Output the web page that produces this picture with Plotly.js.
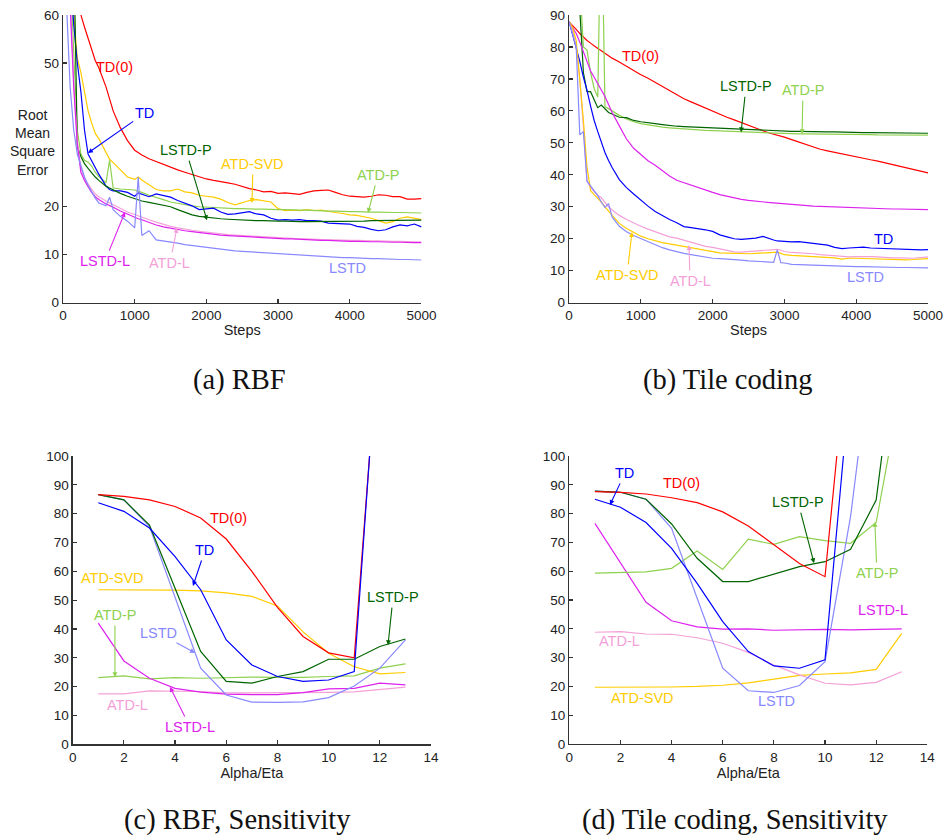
<!DOCTYPE html>
<html><head><meta charset="utf-8">
<script src="https://cdn.plot.ly/plotly-3.0.1.min.js"></script>
<style>html,body{margin:0;padding:0;background:#fff}</style>
</head><body><div id="chart" style="width:944px;height:837px"></div>
<script>
// ---------------- DATA ----------------
const stepsA = [0,50,100,150,200,250,300,350,400,450,500,
  600,650,700,800,900,1000,1050,1100,
  1200,1300,1400,1500,1600,1700,1800,1900,2000,
  2100,2200,2300,2400,2500,2600,2700,2800,2900,3000,
  3100,3200,3300,3400,3500,3600,3700,3800,3900,4000,
  4100,4200,4300,4400,4500,4600,4700,4800,4900,5000];

const rbfTD0 = [110,95,82,72,65,60,57.5,55,52.5,50.5,49,
  45,42.5,40,36.5,33.8,31.8,31.2,30.8,
  30.0,29.4,28.8,28.2,27.7,27.2,26.7,26.2,25.8,
  25.5,25.3,25.0,24.7,24.2,23.8,23.5,23.1,23.2,22.8,
  22.9,22.7,22.6,23.0,23.3,23.4,23.5,23.0,22.5,22.2,
  22.1,22.0,22.2,22.5,22.4,22.1,22.1,21.6,21.6,21.7];
const rbfTD = [110,90,70,58,50,44,36,31,29.5,28,26.8,
  24.3,23.6,23.3,23.3,23.0,22.2,22.9,22.6,
  22.1,22.7,22.3,22.0,21.3,20.8,20.2,19.4,19.6,
  19.7,18.9,18.4,18.5,18.8,19.0,18.5,18.3,17.6,17.2,
  17.3,17.2,17.3,17.1,17.1,17.0,16.6,16.5,16.4,16.4,
  15.9,15.7,15.3,15.0,15.2,15.8,16.2,16.0,16.4,15.8];
const rbfLSTDP = [120,100,80,75,32.5,30.5,29,28,27,26.2,25.5,
  24.3,23.9,23.5,22.8,22.2,21.7,21.4,21.2,
  20.9,20.6,20.3,20.0,19.4,18.8,18.3,18.0,17.8,
  17.6,17.5,17.4,17.3,17.3,17.2,17.1,17.1,17.0,17.0,
  17.0,16.9,16.9,16.9,16.9,16.9,16.9,17.0,17.0,17.0,
  17.0,17.0,17.1,17.1,17.1,17.1,17.2,17.2,17.2,17.2];
const rbfATDSVD = [120,100,80,60,51,48,44,40,37.5,35.3,34.2,
  31.2,29.9,29.2,27.6,26.2,25.7,26.2,25.6,
  24.6,23.6,23.3,23.3,23.7,23.1,22.9,22.4,22.2,
  22.0,21.6,20.9,20.4,20.9,21.3,21.5,21.2,21.0,19.6,
  19.2,19.3,19.2,19.4,19.2,19.3,19.0,18.8,18.6,18.3,
  18.2,17.9,17.6,17.1,16.6,16.9,17.6,17.9,17.6,17.3];
const rbfATDP = [110,90,70,52,36,31,29.7,29.3,28.5,27.2,26.3,
  25.0,29.7,23.9,23.7,23.6,23.5,23.2,23.0,
  22.4,22.0,21.5,21.0,20.7,20.4,20.2,20.0,19.9,
  19.8,19.7,19.7,19.6,19.6,19.5,19.5,19.5,19.4,19.4,
  19.4,19.3,19.3,19.3,19.2,19.2,19.1,19.1,19.0,19.0,
  19.0,18.9,18.9,18.9,18.8,18.8,18.8,18.8,18.7,18.7];
const rbfLSTDL = [120,90,62,45,33,27.2,25.5,24.2,23.0,22.1,21.5,
  20.6,20.3,19.9,19.1,18.4,17.8,17.5,17.3,
  16.7,16.2,15.8,15.5,15.2,15.0,14.8,14.6,14.4,
  14.2,14.1,14.0,13.9,13.8,13.7,13.6,13.6,13.5,13.4,
  13.3,13.3,13.2,13.2,13.1,13.0,13.0,12.9,12.9,12.8,
  12.8,12.7,12.7,12.7,12.6,12.6,12.6,12.5,12.5,12.5];
const rbfATDL = [120,90,64,46,34,28,26,24.8,23.6,22.7,22.1,
  21.2,20.8,20.4,19.6,18.9,18.4,18.1,17.9,
  17.3,16.8,16.3,15.9,15.6,15.3,15.1,14.9,14.7,
  14.5,14.3,14.2,14.1,14.0,13.9,13.8,13.7,13.6,13.5,
  13.4,13.4,13.3,13.3,13.2,13.2,13.1,13.1,13.0,13.0,
  13.0,12.9,12.9,12.9,12.8,12.8,12.8,12.7,12.7,12.7];
const rbfLSTD = [130,62,45,36,31,28.5,26.2,24.5,23,21.8,20.8,
  20.2,22.0,19.4,18.0,17.0,15.6,26.2,14.0,
  15.0,13.1,12.9,12.7,12.4,12.1,11.9,11.7,11.5,
  11.3,11.1,10.9,10.8,10.7,10.6,10.5,10.4,10.3,10.2,
  10.1,10.0,9.9,9.8,9.7,9.6,9.5,9.5,9.4,9.4,
  9.3,9.3,9.2,9.2,9.1,9.1,9.0,9.0,8.9,8.9];

const stepsB = [0,50,100,150,200,250,300,350,400,450,500,550,600,
  700,800,900,1000,1100,1200,1300,1400,1500,1600,1700,
  1800,1900,2000,2100,2200,2300,2400,2500,2600,2700,2800,
  2850,2900,2950,
  3000,3100,3200,3300,3400,3500,3600,3700,3800,3900,4000,
  4100,4200,4300,4400,4500,4600,4700,4800,4900,5000];

const tileTD0 = [87.8,86.8,85.5,84.2,83,82,81.2,80.2,79.5,78.8,78,77.2,76.5,
  75.3,74,72.5,71.3,70.2,68.9,67.6,66.4,65,63.8,62.8,
  61.8,60.8,60,59,58,57.2,56.3,55.4,54.6,53.8,53,
  52.7,52.5,52.2,
  51.8,51,50.2,49.4,48.7,48,47.5,47,46.5,46,45.6,
  45.2,44.7,44.3,43.8,43.2,42.7,42.2,41.7,41.1,40.6];
const tileTD = [88,84,80,75.5,70.5,66.5,61.5,57,53.5,50,47,44.5,42.3,
  38.5,36,34,32,30.2,28.5,27.2,26,25,23.8,23.5,
  23.2,22.8,22.3,21.2,20.6,20,19.8,19.9,20.2,20.7,19.8,
  19.6,19.3,19.2,
  19.3,19.0,19.1,18.8,18.6,18.4,18.0,17.3,16.9,17.1,17.3,
  17.4,17.1,17.0,17.0,16.9,16.8,16.7,16.6,16.5,16.6];
const tileLSTDP = [150,130,110,92,72,66,66,63.5,61,61.8,60.5,59.5,59,
  58,57.9,57,56.6,56.2,56,55.7,55.4,55.2,55.1,55.0,
  54.9,54.7,54.6,54.4,54.3,54.2,54.1,54,54,53.9,53.8,
  53.8,53.8,53.7,
  53.7,53.6,53.6,53.5,53.5,53.4,53.4,53.4,53.3,53.3,53.3,
  53.2,53.2,53.2,53.1,53.1,53.1,53.0,53.0,53.0,53.0];
const tileATDP = [150,130,110,100,80,79,72,67,64.3,130,61.3,60.7,60,
  58.6,57.5,56.6,56,55.6,55.2,54.9,54.7,54.5,54.3,54.1,
  54.0,53.9,53.8,53.7,53.6,53.5,53.4,53.3,53.2,53.1,53.0,
  53.0,53.0,52.9,
  52.9,52.9,52.8,52.8,52.8,52.7,52.7,52.7,52.7,52.6,52.6,
  52.6,52.6,52.5,52.5,52.5,52.5,52.4,52.4,52.4,52.4];
const tileLSTDL = [88,86,84.2,81.5,78.5,75.8,72.5,70.5,68.5,66.3,64.5,62,59.5,
  55.3,51.2,48.3,46.2,44.4,43.0,41.3,39.6,38.3,37.5,36.8,
  36.1,35.3,34.5,33.8,33.3,32.6,32.3,32.0,31.7,31.5,31.3,
  31.2,31.1,31.0,
  30.8,30.6,30.5,30.3,30.2,30.1,30.0,30.0,29.9,29.9,29.8,
  29.7,29.6,29.5,29.4,29.3,29.3,29.2,29.2,29.1,29.1];
const tileATDSVD = [88,86,82,70,57,42.5,35,33.8,32.8,31.5,30,28.5,27.3,
  24.8,23.2,22.0,20.8,20.0,19.3,18.8,18.4,18.0,17.5,17.0,
  16.6,16.2,15.8,15.6,15.5,15.4,15.2,15.3,15.4,15.6,15.7,
  15.8,15.8,15.4,
  15.0,14.8,14.7,14.4,14.5,14.3,14.2,14.0,13.6,13.9,13.9,
  13.8,13.7,13.7,13.6,13.5,13.5,13.4,13.5,13.6,13.8];
const tileATDL = [88,85,80,70,55,38,36,34.8,33.6,32.8,31.3,30,29,
  27.3,26,24.9,23.9,23,22.2,21.3,20.6,20.2,19.5,18.8,
  18.2,17.6,17.3,16.8,16.3,15.9,15.8,16.0,16.3,16.5,16.7,
  16.8,16.7,16.4,
  16.0,15.7,15.6,15.5,15.3,15.0,14.8,14.6,14.3,14.3,14.4,
  14.5,14.4,14.3,14.1,14.0,14.0,13.9,13.9,14.1,14.3];
const tileLSTD = [88,84,80,52.5,53.5,38,36.5,34.8,33.5,31.5,29.8,31.0,26.8,
  23.9,22.2,21.0,20.0,19.0,18.0,17.2,16.5,15.9,15.4,15.0,
  14.6,14.1,13.9,13.8,13.7,13.5,13.3,13.1,12.9,12.8,12.7,
  12.6,16.5,12.5,
  12.4,12.0,11.9,11.8,11.7,11.6,11.5,11.5,11.4,11.4,11.3,
  11.3,11.2,11.2,11.1,11.1,11.0,11.0,11.0,10.9,10.9];

const alphaEta = [1,2,3,4,5,6,7,8,9,10,11,12,13];

const sensRbfTD0    = [86.6,86.0,84.8,82.5,78.5,71.2,60.0,47.5,37.4,31.7,30.0,147,null];
const sensRbfTD     = [83.8,80.8,75.0,65.1,53.6,36.2,27.5,23.5,21.8,22.3,25.2,150,null];
const sensRbfLSTDP  = [86.6,84.8,76.0,54.0,32.2,21.8,21.2,23.5,25.2,29.5,29.5,33.9,36.5];
const sensRbfLSTD   = [86.6,84.8,75.5,51.0,26.4,17.1,14.6,14.5,14.7,16.2,20.2,26.4,36.2];
const sensRbfATDSVD = [53.6,53.6,53.6,53.5,53.2,52.5,51.3,48.0,39.0,31.6,26.9,24.4,24.9];
const sensRbfATDP   = [23.1,23.7,22.7,23.1,22.9,23.2,23.3,23.2,23.2,23.5,23.7,26.4,27.9];
const sensRbfLSTDL  = [42.0,28.9,22.9,19.4,18.1,17.4,17.2,17.2,17.9,19.2,19.4,21.2,20.6];
const sensRbfATDL   = [17.5,17.5,18.5,18.5,18.3,17.8,17.8,17.8,18.0,18.0,18.2,18.9,19.8];

const sensTileTD0    = [87.6,87.4,86.8,85.5,83.8,80.6,75.7,69.3,62.7,58.1,149,null,null];
const sensTileTD     = [85.0,82.2,76.9,67.9,55.8,42.5,32.1,27.1,26.3,29.2,127.5,null,null];
const sensTileLSTDP  = [87.8,87.4,85.0,76.4,64.5,56.4,56.4,59.0,61.6,63.3,67.6,84.7,154];
const sensTileLSTD   = [87.8,87.4,85.0,74.9,50.6,26.3,18.5,17.9,20.3,28.6,79,150,null];
const sensTileATDP   = [59.3,59.5,59.8,61.0,67.0,60.6,71.1,69.3,72.0,70.6,69.7,76.9,125];
const sensTileLSTDL  = [76.6,62.7,49.2,42.8,40.7,39.9,40.0,39.5,39.6,39.8,39.6,39.9,40.0];
const sensTileATDL   = [38.8,39.0,38.2,38.1,36.9,35.0,31.8,27.4,24.0,21.1,20.5,21.4,25.1];
const sensTileATDSVD = [19.7,19.7,19.7,19.8,20.0,20.4,21.2,22.5,23.8,24.3,24.7,25.9,38.4];

// ---------------- STYLE ----------------
const C = {
  TD0:'#ff0000', TD:'#0000ff', LSTDP:'#006400', ATDSVD:'#ffcc00',
  ATDP:'#8fd14f', LSTDL:'#dd22ee', ATDL:'#f4a0d8', LSTD:'#8888ff'
};
const FONT = '"Liberation Sans", Arial, sans-serif';

function tr(x, y, color, xa, ya){
  return {x:x, y:y, type:'scatter', mode:'lines', xaxis:xa, yaxis:ya,
    line:{color:color, width:1.2}, hoverinfo:'skip', showlegend:false};
}
const traces = [
  tr(stepsA, rbfTD0, C.TD0,'x','y'), tr(stepsA, rbfATDSVD, C.ATDSVD,'x','y'),
  tr(stepsA, rbfATDP, C.ATDP,'x','y'), tr(stepsA, rbfTD, C.TD,'x','y'),
  tr(stepsA, rbfLSTDP, C.LSTDP,'x','y'), tr(stepsA, rbfATDL, C.ATDL,'x','y'),
  tr(stepsA, rbfLSTDL, C.LSTDL,'x','y'), tr(stepsA, rbfLSTD, C.LSTD,'x','y'),

  tr(stepsB, tileTD0, C.TD0,'x2','y2'), tr(stepsB, tileATDP, C.ATDP,'x2','y2'),
  tr(stepsB, tileLSTDP, C.LSTDP,'x2','y2'), tr(stepsB, tileLSTDL, C.LSTDL,'x2','y2'),
  tr(stepsB, tileTD, C.TD,'x2','y2'), tr(stepsB, tileATDL, C.ATDL,'x2','y2'),
  tr(stepsB, tileATDSVD, C.ATDSVD,'x2','y2'), tr(stepsB, tileLSTD, C.LSTD,'x2','y2'),

  tr(alphaEta, sensRbfATDL, C.ATDL,'x3','y3'), tr(alphaEta, sensRbfATDP, C.ATDP,'x3','y3'),
  tr(alphaEta, sensRbfLSTDL, C.LSTDL,'x3','y3'), tr(alphaEta, sensRbfATDSVD, C.ATDSVD,'x3','y3'),
  tr(alphaEta, sensRbfLSTD, C.LSTD,'x3','y3'), tr(alphaEta, sensRbfLSTDP, C.LSTDP,'x3','y3'),
  tr(alphaEta, sensRbfTD0, C.TD0,'x3','y3'), tr(alphaEta, sensRbfTD, C.TD,'x3','y3'),

  tr(alphaEta, sensTileATDSVD, C.ATDSVD,'x4','y4'), tr(alphaEta, sensTileATDL, C.ATDL,'x4','y4'),
  tr(alphaEta, sensTileLSTDL, C.LSTDL,'x4','y4'), tr(alphaEta, sensTileATDP, C.ATDP,'x4','y4'),
  tr(alphaEta, sensTileLSTD, C.LSTD,'x4','y4'), tr(alphaEta, sensTileLSTDP, C.LSTDP,'x4','y4'),
  tr(alphaEta, sensTileTD0, C.TD0,'x4','y4'), tr(alphaEta, sensTileTD, C.TD,'x4','y4')
];

function axis(domain, range, tickvals, anchor, title){
  const a = {domain:domain, range:range, tickvals:tickvals, anchor:anchor,
    showline:true, linecolor:'#333', linewidth:1.3, ticks:'inside', ticklen:4,
    tickwidth:1.2, tickcolor:'#333', showgrid:false, zeroline:false, fixedrange:true,
    tickfont:{family:FONT, size:13.5, color:'#222'}};
  if (title) a.title = {text:title, font:{family:FONT, size:14.5, color:'#222'}, standoff:2};
  return a;
}
const stepTicks = [0,1000,2000,3000,4000,5000];
const aeTicks = [0,2,4,6,8,10,12,14];
const pctTicks = [0,10,20,30,40,50,60,70,80,90,100];

function lab(xr, yr, x, y, text, color, ax, ay){
  const o = {xref:xr, yref:yr, x:x, y:y, text:text, xanchor:'center', yanchor:'middle',
    font:{family:FONT, size:14.5, color:color}, showarrow:false};
  if (ax !== undefined){
    o.showarrow = true; o.ax = ax; o.ay = ay; o.arrowcolor = color;
    o.arrowhead = 2; o.arrowsize = 0.9; o.arrowwidth = 1.1; o.standoff = 0; o.startstandoff = 1;
  }
  return o;
}
function cap(x, y, text){
  return {xref:'paper', yref:'paper', x:x, y:y, text:text, showarrow:false,
    xanchor:'center', yanchor:'middle',
    font:{family:'"Liberation Serif", "DejaVu Serif", serif', size:28.5, color:'#111'}};
}

const annotations = [
  lab('x','y',725,49.1,'TD(0)',C.TD0),
  lab('x','y',349,31.2,'TD',C.TD,57,-40),
  lab('x','y',2008,17.2,'LSTD-P',C.LSTDP,-21,-70),
  lab('x','y',2636,20.8,'ATD-SVD',C.ATDSVD,1,-39),
  lab('x','y',4254,18.7,'ATD-P',C.ATDP,10,-38),
  lab('x','y',865,18.9,'LSTD-L',C.LSTDL,-20,49),
  lab('x','y',1590,15.6,'ATD-L',C.ATDL,-7,35),
  lab('x','y',3975,7.2,'LSTD',C.LSTD),

  lab('x2','y2',989,77.1,'TD(0)',C.TD0),
  lab('x2','y2',2396,53.3,'LSTD-P',C.LSTDP,5,-46),
  lab('x2','y2',3245,52.7,'ATD-P',C.ATDP,1,-44),
  lab('x2','y2',4373,19.9,'TD',C.TD),
  lab('x2','y2',4123,8,'LSTD',C.LSTD),
  lab('x2','y2',877,22.1,'ATD-SVD',C.ATDSVD,-5,43),
  lab('x2','y2',1671,18,'ATD-L',C.ATDL,1,36),

  lab('x3','y3',6.07,78.5,'TD(0)',C.TD0),
  lab('x3','y3',4.7,54.9,'TD',C.TD,12,-36),
  lab('x3','y3',1.57,57.7,'ATD-SVD',C.ATDSVD),
  lab('x3','y3',12.32,34.4,'LSTD-P',C.LSTDP,5,-48),
  lab('x3','y3',1.65,23.3,'ATD-P',C.ATDP,0,-62),
  lab('x3','y3',4.78,31.7,'LSTD',C.LSTD,-37,-20),
  lab('x3','y3',2.13,13.6,'ATD-L',C.ATDL),
  lab('x3','y3',3.8,19.9,'LSTD-L',C.LSTDL,20,40),

  lab('x4','y4',1.59,83,'TD',C.TD,15,-32),
  lab('x4','y4',4.4,90.6,'TD(0)',C.TD0),
  lab('x4','y4',9.57,62.8,'LSTD-P',C.LSTDP,-16,-61),
  lab('x4','y4',11.95,77.1,'ATD-P',C.ATDP,2,51),
  lab('x4','y4',12.26,46.5,'LSTD-L',C.LSTDL),
  lab('x4','y4',1.95,35.8,'ATD-L',C.ATDL),
  lab('x4','y4',2.85,16,'ATD-SVD',C.ATDSVD),
  lab('x4','y4',8.12,14.9,'LSTD',C.LSTD),

  {xref:'paper', yref:'paper', x:0.0339, y:0.830, xanchor:'center', yanchor:'middle',
   text:'Root<br>Mean<br>Square<br>Error', showarrow:false,
   font:{family:FONT, size:14, color:'#222'}},

  cap(0.2542, 0.546, '(a) RBF'),
  cap(0.771, 0.546, '(b) Tile coding'),
  cap(0.252, 0.0203, '(c) RBF, Sensitivity'),
  cap(0.7786, 0.0203, '(d) Tile coding, Sensitivity')
];

const layout = {
  width:944, height:837, autosize:false,
  margin:{l:0, r:0, t:0, b:0, pad:0},
  paper_bgcolor:'#fff', plot_bgcolor:'rgba(0,0,0,0)',
  showlegend:false,
  xaxis:  axis([0.0667,0.4465],[0,5000],stepTicks,'y','Steps'),
  yaxis:  axis([0.6384,0.9821],[0,60],[0,10,20,50,60],'x'),
  xaxis2: axis([0.6028,0.9831],[0,5000],stepTicks,'y2','Steps'),
  yaxis2: axis([0.6384,0.9821],[0,90],[0,10,20,30,40,50,60,70,80,90],'x2'),
  xaxis3: axis([0.0770,0.4566],[0,14],aeTicks,'y3','Alpha/Eta'),
  yaxis3: axis([0.1108,0.4552],[0,100],pctTicks,'x3'),
  xaxis4: axis([0.6031,0.9823],[0,14],aeTicks,'y4','Alpha/Eta'),
  yaxis4: axis([0.1111,0.4552],[0,100],pctTicks,'x4'),
  annotations: annotations
};

Plotly.newPlot('chart', traces, layout, {displayModeBar:false, staticPlot:true});
</script>
</body></html>
